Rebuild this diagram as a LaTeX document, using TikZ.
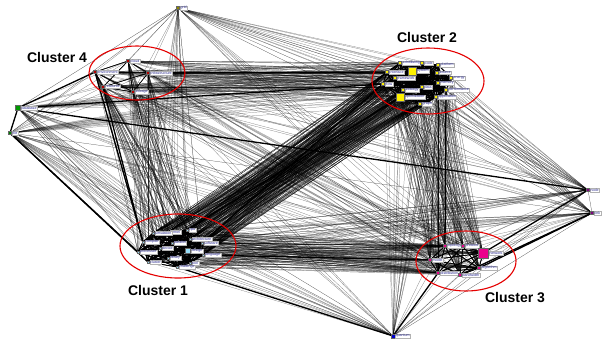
\documentclass[tikz,border=0pt]{standalone}
\usepackage{fontspec}
\setmainfont{Liberation Sans}
\begin{document}
\begin{tikzpicture}[x=1pt,y=-1pt,
  edge/.style={black,line width=0.22pt,opacity=0.75},
  inner/.style={black,line width=0.7pt},
  heavy/.style={black,line width=1.3pt},
  lbl/.style={draw=gray!60,fill=white,line width=0.2pt,inner sep=0.6pt,
    font=\fontsize{3.6}{4}\selectfont,text=blue!40!darkgray,anchor=west},
  vmark/.style={minimum size=2.2pt,inner sep=0pt,draw=black!60,line width=0.15pt},
  bigvmark/.style={minimum size=8pt,inner sep=0pt,draw=black!60,line width=0.2pt},
  ring/.style={red!90!black,line width=1.1pt},
  title/.style={font=\fontsize{14}{15}\selectfont\bfseries}]
\useasboundingbox (0,0) rectangle (604,343);
\fill[white] (0,0) rectangle (604,343);

% ---- vertex positions ----
\foreach \n/\x/\y in {a1/168/232,a2/187/230,a3/190/239,a4/202/243,a5/172/243,
  a6/143/242,a7/188/251,a8/160/248,a9/203/255,a10/138/252,a11/168/258,
  a12/148/262,a13/190/263,a14/177/267,a15/153/233,
  b1/400/63,b2/422/63,b3/438/65,b4/412/71,b5/387/72,b6/437/73,b7/451/78,
  b8/395/78,b9/383/84,b10/438/83,b11/422/87,b12/446/90,b13/403/90,
  b14/400/97,b15/420/104,b16/436/97,
  c1/445/246,c2/463/246,c3/483/253,c4/430/260,c5/479/268,c6/438/273,c7/460/275,
  d1/128/61,d2/95/72,d3/148/73,d4/103/87,d5/133/92,
  o1/178/8,o2/18/108,o3/10/133,o4/588/190,o5/592/213,o6/393/336}
  {\coordinate (\n) at (\x,\y);}

\def\CA{a1,a2,a3,a4,a5,a6,a7,a8,a9,a10,a11,a12,a13,a14,a15}
\def\CB{b1,b2,b3,b4,b5,b6,b7,b8,b9,b10,b11,b12,b13,b14,b15,b16}
\def\CC{c1,c2,c3,c4,c5,c6,c7}
\def\CD{d1,d2,d3,d4,d5}

% ---- links between the four groups ----
\foreach \p in \CA {\foreach \q in \CB {\draw[edge] (\p) -- (\q);}}
\foreach \p in \CA {\foreach \q in \CC {\draw[edge] (\p) -- (\q);}}
\foreach \p in \CB {\foreach \q in \CC {\draw[edge] (\p) -- (\q);}}
\foreach \p in \CD {\foreach \q in \CB {\draw[edge] (\p) -- (\q);}}
\foreach \p in \CD {\foreach \q in \CA {\draw[edge] (\p) -- (\q);}}
\foreach \p in \CD {\foreach \q in \CC {\draw[edge,opacity=0.5] (\p) -- (\q);}}

% ---- links from the outlying vertices ----
\foreach \o in {o1,o2,o3,o4,o5,o6} {
  \foreach \q in \CA {\draw[edge,opacity=0.55] (\o) -- (\q);}
  \foreach \q in \CB {\draw[edge,opacity=0.55] (\o) -- (\q);}
  \foreach \q in \CC {\draw[edge,opacity=0.55] (\o) -- (\q);}
  \foreach \q in \CD {\draw[edge,opacity=0.55] (\o) -- (\q);}
}
\foreach \p/\q in {o1/o2,o1/o3,o1/o4,o1/o5,o2/o3,o2/o6,o3/o6,o6/o4,o6/o5,o4/o5,o2/o4,o3/o5}
  {\draw[edge] (\p) -- (\q);}

% ---- links inside each group ----
\foreach \p in \CA {\foreach \q in \CA {\draw[inner] (\p) -- (\q);}}
\foreach \p in \CB {\foreach \q in \CB {\draw[inner] (\p) -- (\q);}}
\foreach \p in \CC {\foreach \q in \CC {\draw[inner] (\p) -- (\q);}}
\foreach \p in \CD {\foreach \q in \CD {\draw[inner,line width=0.5pt] (\p) -- (\q);}}

% ---- strong links ----
\foreach \p/\q in {o2/o4,o2/d2,o2/o3,o3/a10,o2/b9,c5/o5,c3/o4,o6/a14,o6/c6,
  d2/a6,d4/a12,b14/a2,b9/a4,c7/o5,o3/a12,d3/b5,a9/c4,b12/c1}
  {\draw[heavy] (\p) -- (\q);}

% ---- vertex markers and labels ----
\foreach \n/\t in {a1/kernel,a2/cpu,a3/architecture,a4/software,a5/parallel,
  a6/compiler,a8/device,a9/language,a10/processor,a11/library,a12/cluster,
  a13/tool,a14/challenge,a15/simulation}
  {\node[vmark,fill=cyan!40] (\n-m) at (\n) {};
   \node[lbl] (\n-l) at ([xshift=1.5pt]\n) {\t};}
\node[bigvmark,minimum size=5pt,fill=cyan!40] (a7-m) at (a7) {};
\node[lbl] (a7-l) at ([xshift=3pt]a7) {design};

\foreach \n/\t in {b1/scheduling,b2/code,b3/platform,b5/interface,b6/source,
  b7/energy,b8/framework,b9/flow,b10/memory,b11/data,b12/performance,
  b13/strategy,b15/graph,b16/application}
  {\node[vmark,fill=yellow,minimum size=3pt] (\n-m) at (\n) {};
   \node[lbl] (\n-l) at ([xshift=2pt]\n) {\t};}
\node[lbl] (b4-l) at ([xshift=4.5pt]b4) {system};
\node[bigvmark,fill=yellow] (b4-m) at (b4) {};
\node[lbl] (b14-l) at ([xshift=4.5pt]b14) {optimization};
\node[bigvmark,fill=yellow] (b14-m) at (b14) {};

\foreach \n/\t in {c1/topology,c2/protocol,c4/model,c5/algorithm,
  c6/distribution,c7/bandwidth}
  {\node[vmark,fill=magenta,minimum size=3pt] (\n-m) at (\n) {};
   \node[lbl] (\n-l) at ([xshift=2pt]\n) {\t};}
\node[lbl] (c3-l) at ([xshift=6pt]c3) {network};
\node[bigvmark,minimum size=10pt,fill=magenta] (c3-m) at (c3) {};

\foreach \n/\t in {d1/cloud,d2/environment,d3/infrastructure,d4/resource,d5/storage}
  {\node[vmark,fill=red!70!black,minimum size=3pt] (\n-m) at (\n) {};
   \node[lbl] (\n-l) at ([xshift=2pt]\n) {\t};}

\node[vmark,fill=olive,minimum size=3pt] (o1-m) at (o1) {};
\node[lbl] (o1-l) at ([xshift=2pt]o1) {grid};
\node[vmark,fill=green!60!black,minimum size=5pt] (o2-m) at (o2) {};
\node[lbl] (o2-l) at ([xshift=3pt]o2) {database};
\node[vmark,fill=green!50!black,minimum size=3pt] (o3-m) at (o3) {};
\node[lbl] (o3-l) at ([xshift=2pt]o3) {file};
\node[vmark,fill=violet,minimum size=3pt] (o4-m) at (o4) {};
\node[lbl] (o4-l) at ([xshift=2pt]o4) {node};
\node[vmark,fill=violet,minimum size=3pt] (o5-m) at (o5) {};
\node[lbl] (o5-l) at ([xshift=2pt]o5) {link};
\node[vmark,fill=blue!80!black,minimum size=3.5pt] (o6-m) at (o6) {};
\node[lbl] (o6-l) at ([xshift=2pt]o6) {quantum};

% ---- cluster outlines and titles ----
\draw[ring] (137,73) ellipse [x radius=48,y radius=27];
\draw[ring] (428,81) ellipse [x radius=56,y radius=33];
\draw[ring] (178,246) ellipse [x radius=58,y radius=32];
\draw[ring] (466,261) ellipse [x radius=50,y radius=30];

\node[title] (t4) at (57,57) {Cluster 4};
\node[title] (t2) at (427,37) {Cluster 2};
\node[title] (t1) at (158,290) {Cluster 1};
\node[title] (t3) at (515,297) {Cluster 3};
\end{tikzpicture}
\end{document}
